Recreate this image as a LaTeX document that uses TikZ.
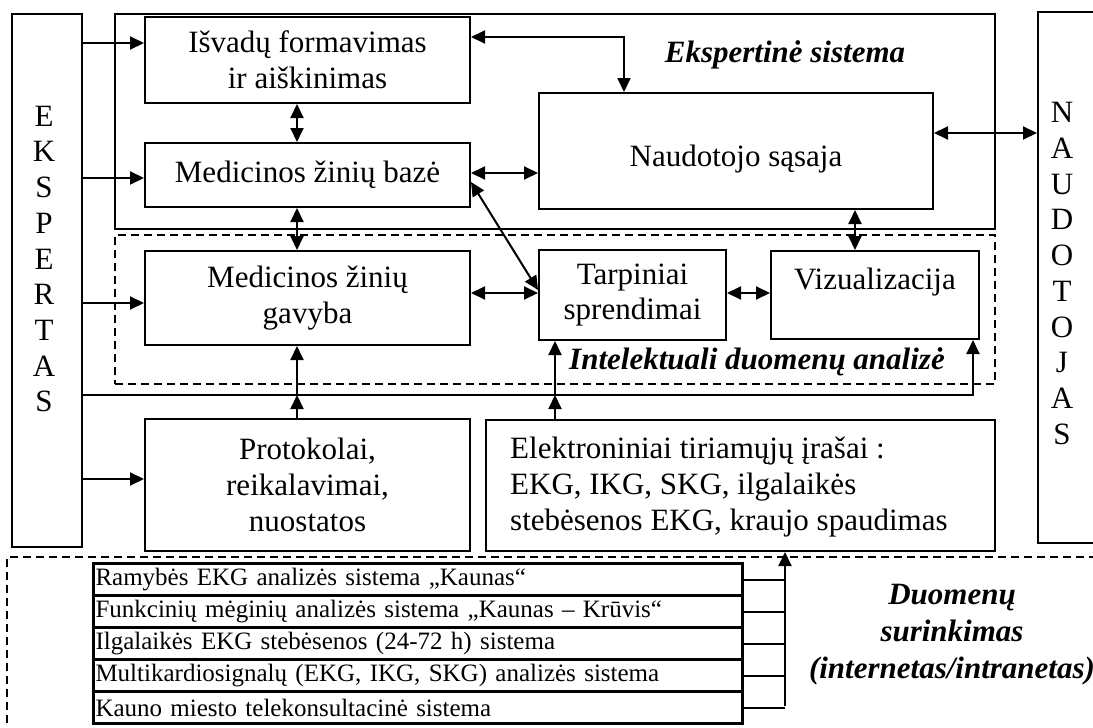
\documentclass[tikz,border=0pt]{standalone}
\usepackage{fontspec}
\setmainfont{Liberation Serif}
\usetikzlibrary{arrows.meta,calc}
\newcommand\MyMainSize{\fontsize{31}{35.7}\selectfont}
\newcommand\MyTabSize{\fontsize{25}{29}\selectfont}
\begin{document}
\begin{tikzpicture}[x=1pt,y=-1pt,
  box/.style={draw, line width=2pt, inner sep=0pt, align=center, font=\MyMainSize},
  dbox/.style={draw, line width=1.5pt, dash pattern=on 8pt off 5pt, inner sep=0pt},
  lbl/.style={inner sep=0pt, align=center, font=\MyMainSize},
  blbl/.style={inner sep=0pt, align=center, font=\MyMainSize\bfseries\itshape},
  tabrow/.style={draw, line width=3pt, anchor=north west, inner xsep=2pt, inner ysep=0pt,
     text width=645pt, align=left, minimum height=32pt, font=\MyTabSize},
  arr/.style={line width=2pt, -{Triangle[length=14pt,width=13pt]}},
  arrb/.style={line width=2pt, {Triangle[length=14pt,width=13pt]}-{Triangle[length=14pt,width=13pt]}},
  conn/.style={line width=2pt}]
\clip (0,0) rectangle (1093,728);
\fill[white] (0,0) rectangle (1093,728);

% containers
\node[draw, line width=2pt, minimum width=880pt, minimum height=215pt] (es) at (555,121.5) {};
\node[dbox, minimum width=880pt, minimum height=149pt] (ida) at (555,309.5) {};
\node[dbox, minimum width=1113pt, minimum height=203pt] (duom) at (563.5,658.5) {};

% side boxes
\node[box, minimum width=70pt, minimum height=533pt] (eksp) at (47,280.5) {};
\node[lbl] (ekspt) at (44,259) {E\\K\\S\\P\\E\\R\\T\\A\\S};
\node[box, minimum width=72pt, minimum height=531pt] (user) at (1074,277.5) {};
\node[lbl] (usert) at (1062,273.5) {N\\A\\U\\D\\O\\T\\O\\J\\A\\S};

% inner boxes
\node[box, minimum width=325pt, minimum height=86pt] (isv) at (307.5,60) {Išvadų formavimas\\ir aiškinimas};
\node[box, minimum width=325pt, minimum height=64pt] (baze) at (307.5,175) {Medicinos žinių bazė};
\node[box, minimum width=394pt, minimum height=116pt] (naud) at (736,151) {};
\node[lbl] (naudt) at (736,159) {Naudotojo sąsaja};
\node[box, minimum width=325pt, minimum height=94pt] (gav) at (307.5,298) {Medicinos žinių\\gavyba};
\node[box, minimum width=187pt, minimum height=90pt] (tarp) at (632.5,295) {Tarpiniai\\sprendimai};
\node[box, minimum width=208pt, minimum height=88pt] (viz) at (875,295) {};
\node[lbl] (vizt) at (875,282) {Vizualizacija};
\node[box, minimum width=325pt, minimum height=132pt] (prot) at (307.5,485) {Protokolai,\\reikalavimai,\\nuostatos};
\node[box, minimum width=509pt, minimum height=131pt] (elek) at (740.5,485.5) {};
\node[lbl, anchor=west, align=left] (elekt) at (510,487) {Elektroniniai tiriamųjų įrašai :\\EKG, IKG, SKG, ilgalaikės\\stebėsenos EKG, kraujo spaudimas};

% labels
\node[blbl] (esl) at (785,55) {Ekspertinė sistema};
\node[blbl] (idal) at (757,362) {Intelektuali duomenų analizė};
\node[blbl, font=\fontsize{31}{37}\selectfont\bfseries\itshape] (duoml) at (952,635) {Duomenų\\surinkimas\\(internetas/intranetas)};

% table
\node[tabrow] (r1) at (92,562) {Ramybės EKG analizės sistema „Kaunas“};
\node[tabrow] (r2) at (92,594) {Funkcinių mėginių analizės sistema „Kaunas – Krūvis“};
\node[tabrow] (r3) at (92,626) {Ilgalaikės EKG stebėsenos (24-72 h) sistema};
\node[tabrow] (r4) at (92,658) {Multikardiosignalų (EKG, IKG, SKG) analizės sistema};
\node[tabrow] (r5) at (92,690) {Kauno miesto telekonsultacinė sistema};

% coordinates
\coordinate (j1) at (297,395);
\coordinate (j2) at (555,395);
\coordinate (bus) at (785,706);
\coordinate (turn) at (624,37);
\coordinate (vizin) at (973,395);

% connectors from EKSPERTAS
\draw[arr] (eksp.east |- 0,43) -- (isv.west |- 0,43);
\draw[arr] (eksp.east |- 0,178) -- (baze.west |- 0,178);
\draw[arr] (eksp.east |- 0,303) -- (gav.west |- 0,303);
\draw[arr] (eksp.east |- 0,479) -- (prot.west |- 0,479);
\draw[arr] (eksp.east |- j1) -| (vizin |- viz.south);

% vertical feeds
\draw[arr] (prot.north -| j1) -- (j1);
\draw[arr] (j1) -- (gav.south -| j1);
\draw[arr] (elek.north -| j2) -- (j2);
\draw[arr] (j2) -- (tarp.south -| j2);

% internal links
\draw[arrb] (isv.south -| j1) -- (baze.north -| j1);
\draw[arrb] (baze.south -| j1) -- (gav.north -| j1);
\draw[arrb] (isv.east |- turn) -| (naud.north -| turn);
\draw[arrb] (baze.east |- 0,173) -- (naud.west |- 0,173);
\draw[arrb] (baze.east |- 0,182) -- (tarp.west |- 0,290);
\draw[arrb] (gav.east |- 0,293) -- (tarp.west |- 0,293);
\draw[arrb] (tarp.east |- 0,293) -- (viz.west |- 0,293);
\draw[arrb] (naud.south -| 855,0) -- (viz.north -| 855,0);
\draw[arrb] (naud.east |- 0,133) -- (user.west |- 0,133);

% table bus
\foreach \r in {r1,r2,r3,r4,r5}
  \draw[conn] (\r.east) -- (\r.east -| bus);
\draw[arr] (bus) -- (elek.south -| bus);
\end{tikzpicture}
\end{document}
